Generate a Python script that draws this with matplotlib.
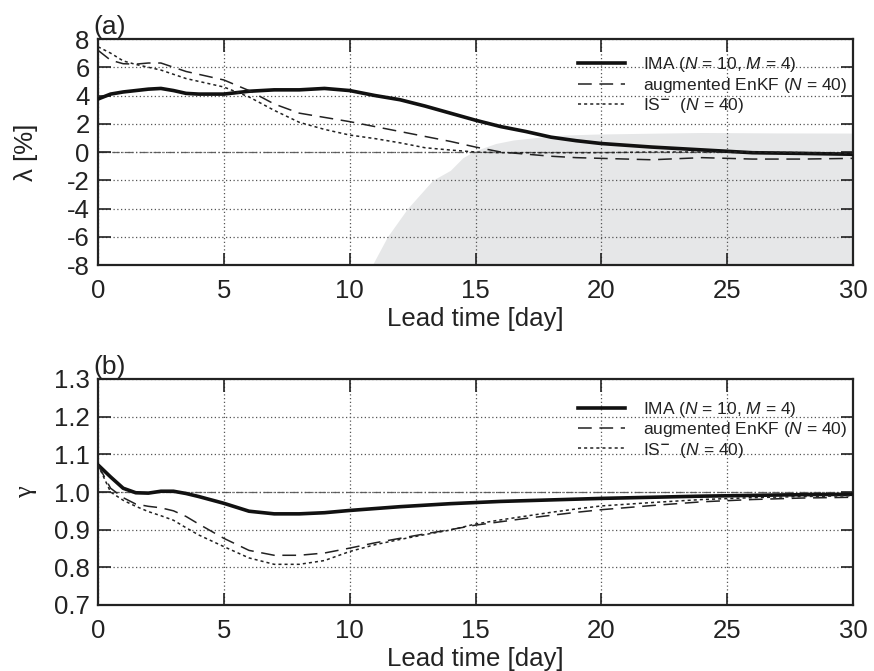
import numpy as np
import matplotlib
matplotlib.use("Agg")
import matplotlib.pyplot as plt

plt.rcParams['font.family'] = ['Liberation Sans', 'DejaVu Sans']
plt.rcParams['mathtext.fontset'] = 'custom'
plt.rcParams['mathtext.rm'] = 'Liberation Sans'
plt.rcParams['mathtext.it'] = 'Liberation Sans:italic'

# lead time grid [day]
lead = [0, 0.5, 1, 1.5, 2, 2.5, 3, 3.5, 4, 5, 6, 7, 8, 9, 10, 11, 12, 13, 14,
        15, 16, 17, 18, 19, 20, 22, 24, 26, 28, 30]

# (a) lambda [%]
lam_ima = [3.75, 4.1, 4.25, 4.35, 4.45, 4.5, 4.35, 4.15, 4.1, 4.1, 4.3, 4.4, 4.4,
           4.5, 4.35, 4.0, 3.7, 3.25, 2.75, 2.25, 1.8, 1.45, 1.05, 0.8, 0.6, 0.35,
           0.15, -0.05, -0.1, -0.16]
lam_enkf = [7.2, 6.5, 6.25, 6.22, 6.3, 6.3, 6.0, 5.7, 5.5, 5.1, 4.35, 3.4, 2.75,
            2.45, 2.15, 1.8, 1.45, 1.1, 0.75, 0.35, 0.0, -0.15, -0.3, -0.4, -0.45,
            -0.55, -0.4, -0.5, -0.5, -0.45]
lam_is = [7.45, 7.0, 6.45, 6.2, 6.0, 5.8, 5.5, 5.2, 5.0, 4.6, 3.9, 2.95, 2.1, 1.6,
          1.2, 0.95, 0.65, 0.3, 0.14, 0.0, -0.05, -0.05, -0.05, -0.05, -0.05, 0.0,
          0.0, 0.0, -0.05, -0.1]

# shaded region (upper bound) in (a)
band_t = [10.9, 11.5, 12.3, 13.3, 14.0, 14.5, 15.0, 15.8, 16.5, 17.6, 18.5, 19.8,
          22.0, 24.0, 27.0, 30.0]
band_hi = [-8.0, -6.0, -4.0, -2.0, -1.3, -0.4, 0.1, 0.6, 0.85, 1.06, 1.2, 1.27,
           1.33, 1.38, 1.35, 1.34]

# (b) gamma
gam_ima = [1.072, 1.04, 1.01, 0.998, 0.997, 1.002, 1.002, 0.996, 0.988, 0.97,
           0.949, 0.942, 0.942, 0.945, 0.951, 0.956, 0.961, 0.965, 0.969, 0.972,
           0.975, 0.977, 0.979, 0.981, 0.983, 0.986, 0.989, 0.991, 0.993, 0.994]
gam_enkf = [1.072, 1.01, 0.985, 0.968, 0.962, 0.958, 0.95, 0.935, 0.915, 0.877,
            0.845, 0.832, 0.832, 0.838, 0.851, 0.865, 0.877, 0.889, 0.9, 0.912,
            0.921, 0.93, 0.938, 0.946, 0.953, 0.964, 0.974, 0.98, 0.984, 0.986]
gam_is = [1.072, 1.0, 0.978, 0.962, 0.948, 0.937, 0.925, 0.905, 0.886, 0.855,
          0.825, 0.808, 0.808, 0.818, 0.842, 0.86, 0.874, 0.887, 0.899, 0.915,
          0.926, 0.936, 0.946, 0.955, 0.963, 0.972, 0.98, 0.985, 0.988, 0.99]

labels = [r'IMA ($N$ = 10, $M$ = 4)',
          r'augmented EnKF ($N$ = 40)',
          r'IS$^{\mathbf{-}}$  ($N$ = 40)']

INK = '#222222'
W, H = 874, 671
fig = plt.figure(figsize=(W / 100, H / 100), dpi=100)
ax_a = fig.add_axes([98 / W, 1 - 265 / H, 755 / W, 226 / H])
ax_b = fig.add_axes([98 / W, 1 - 605 / H, 755 / W, 226 / H])


def style(ax, yticks, ylim, ref):
    ax.set_xlim(0, 30)
    ax.set_ylim(*ylim)
    ax.set_xticks([0, 5, 10, 15, 20, 25, 30])
    ax.set_yticks(yticks)
    ax.grid(True, linestyle=(0, (1, 2)), color='#555555', linewidth=0.9)
    ax.axhline(ref, color='#666666', linewidth=0.9, linestyle=(0, (6, 2, 1, 2)),
               zorder=1.5)
    ax.tick_params(direction='in', length=9, width=1.2, top=True, right=True,
                   labelsize=18.5, colors=INK)
    ax.tick_params(axis='x', pad=10)
    ax.tick_params(axis='y', pad=6)
    for s in ax.spines.values():
        s.set_linewidth(1.6)
        s.set_color(INK)
    ax.set_xlabel('Lead time [day]', fontsize=18.5, color=INK)
    ax.xaxis.set_label_coords(0.5, -0.185)
    ax.xaxis.label.set_va('top')


def draw(ax, a, b, c, ypos):
    ax.plot(lead, a, color='#111111', linewidth=2.6, label=labels[0], zorder=3)
    ax.plot(lead, b, color=INK, linewidth=1.1, linestyle=(0, (9, 5)),
            label=labels[1], zorder=3)
    ax.plot(lead, c, color=INK, linewidth=1.1, linestyle=(0, (2, 2)),
            label=labels[2], zorder=3)
    leg = ax.legend(loc='upper right', frameon=False, fontsize=12.5,
                    handlelength=2.7, handletextpad=1.0, labelspacing=0.08,
                    borderaxespad=0.0, borderpad=0.35,
                    bbox_to_anchor=(1.0, ypos))
    for t in leg.get_texts():
        t.set_color(INK)


# (a)
ax_a.fill_between(band_t, -8, band_hi, color='#e6e7e8', linewidth=0, zorder=1)
draw(ax_a, lam_ima, lam_enkf, lam_is, 0.955)
style(ax_a, [-8, -6, -4, -2, 0, 2, 4, 6, 8], (-8, 8), 0)
ax_a.set_yticklabels([str(v) for v in [-8, -6, -4, -2, 0, 2, 4, 6, 8]])
ax_a.set_ylabel('λ [%]', fontsize=18.5, color=INK)
ax_a.yaxis.set_label_coords(-0.096, 0.5)
ax_a.yaxis.label.set_va('center')
ax_a.text(-0.006, 1.0, '(a)', transform=ax_a.transAxes, fontsize=19,
          ha='left', va='bottom', color=INK)

# (b)
draw(ax_b, gam_ima, gam_enkf, gam_is, 0.935)
style(ax_b, [0.7, 0.8, 0.9, 1.0, 1.1, 1.2, 1.3], (0.7, 1.3), 1.0)
ax_b.set_yticklabels(['0.7', '0.8', '0.9', '1.0', '1.1', '1.2', '1.3'])
ax_b.set_ylabel('γ', fontsize=19, color=INK,
                family=['Liberation Serif', 'DejaVu Serif'])
ax_b.yaxis.set_label_coords(-0.096, 0.5)
ax_b.yaxis.label.set_va('center')
ax_b.text(-0.006, 1.0, '(b)', transform=ax_b.transAxes, fontsize=19,
          ha='left', va='bottom', color=INK)

fig.savefig('out.png', dpi=100)
